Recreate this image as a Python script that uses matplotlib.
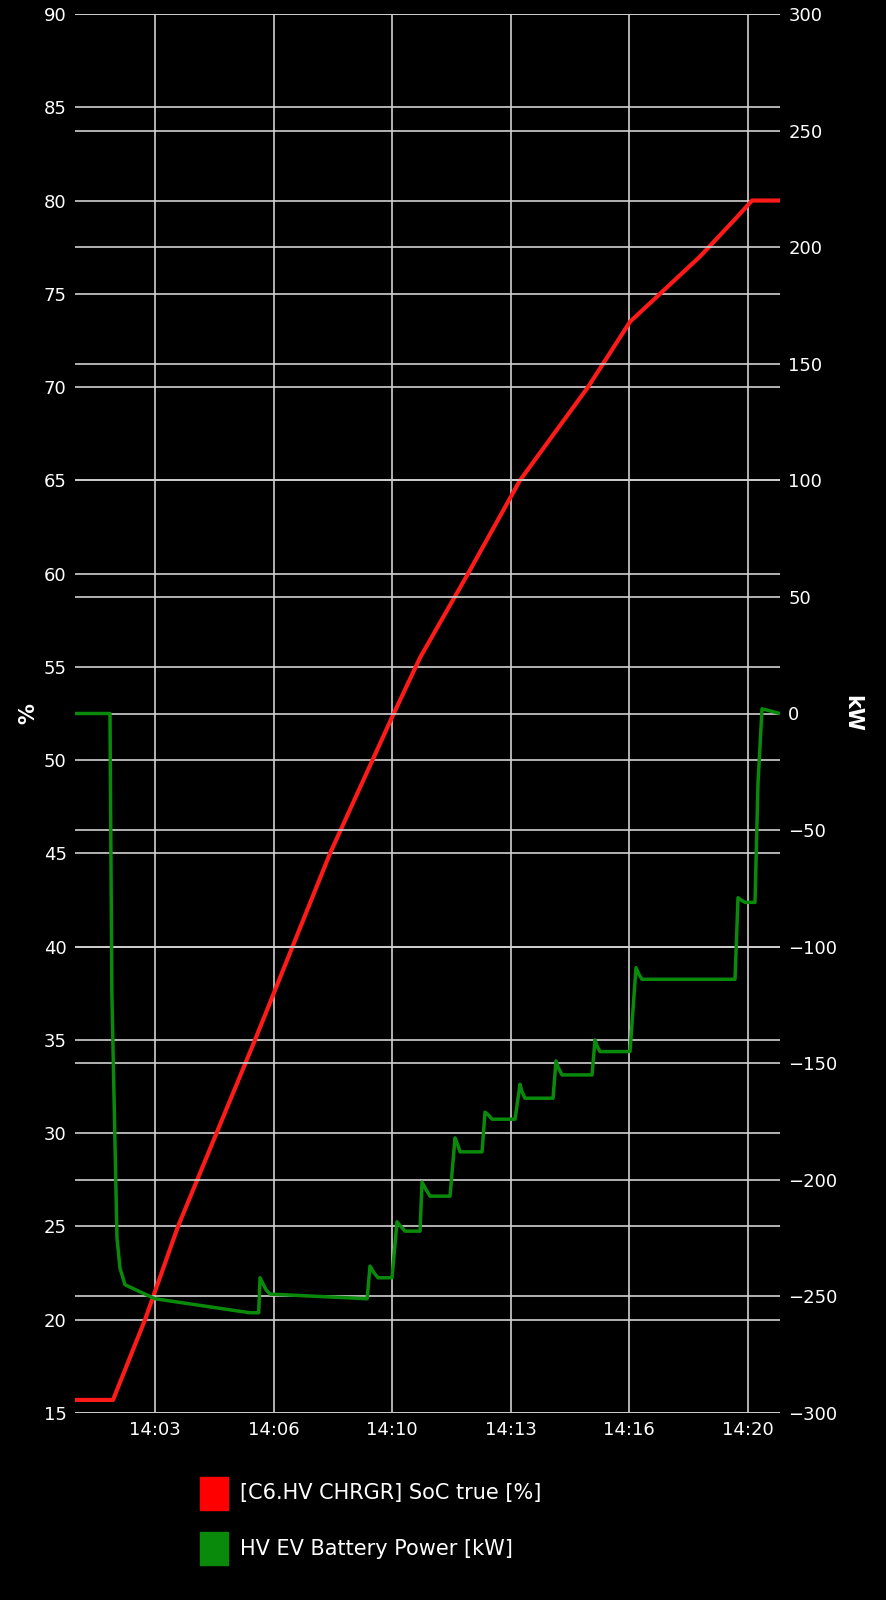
import matplotlib
matplotlib.use("Agg")
import matplotlib.pyplot as plt
import matplotlib.ticker as mt

# time in minutes after 14:00
soc_t = [1.083, 2.152, 3.052, 3.98, 6.146, 8.256, 10.0, 10.79, 12.138, 13.6, 15.513, 16.694, 18.663, 19.648, 20.126, 20.913]
soc_v = [15.7, 15.7, 20.0, 25.0, 35.0, 45.0, 52.3, 55.5, 60.0, 65.0, 70.0, 73.5, 77.0, 79.0, 80.0, 80.0]

pw_t = [1.083, 2.067, 2.12, 2.264, 2.35, 2.489, 3.333, 6.0, 6.25, 6.287, 6.45, 6.568, 9.3, 9.381, 9.5, 9.606, 10.0, 10.14, 10.25, 10.366,
        10.788, 10.844, 10.95, 11.069, 11.632, 11.772, 11.85, 11.913, 12.532, 12.616, 12.7, 12.813, 13.46, 13.6, 13.65, 13.741,
        14.529, 14.613, 14.68, 14.782, 15.626, 15.71, 15.78, 15.85, 16.694, 16.863, 16.95, 17.032, 19.648, 19.732, 19.82, 19.929,
        20.21, 20.294, 20.407, 20.913]
pw_v = [0, 0, -120, -225, -238, -245, -251, -257, -257, -242, -247, -249, -251, -237, -240, -242, -242, -218, -220, -222,
        -222, -201, -204, -207, -207, -182, -185, -188, -188, -171, -172, -174, -174, -159, -162, -165,
        -165, -149, -152, -155, -155, -140, -143, -145, -145, -109, -112, -114, -114, -79, -80, -81,
        -81, -30, 2, 0]

xticks = [10/3, 20/3, 10, 40/3, 50/3, 20]
xlabels = ["14:03", "14:06", "14:10", "14:13", "14:16", "14:20"]

fig = plt.figure(figsize=(8.86, 16), dpi=100, facecolor="black")
ax = fig.add_axes([75/886, 187/1600, 705/886, 1399/1600], facecolor="black")
ax2 = ax.twinx()
gc = "#d0d0d0"
ax.plot(soc_t, soc_v, color="#ff1a1a", lw=3, zorder=3)
ax2.plot(pw_t, pw_v, color="#0a8a0a", lw=2.5, zorder=3)
ax.set_xlim(1.083, 20.913)
ax.set_ylim(15, 90)
ax2.set_ylim(-300, 300)
ax.set_yticks(range(15, 91, 5))
ax2.set_yticks(range(-300, 301, 50))
ax.set_xticks(xticks)
ax.set_xticklabels(xlabels)
for a in (ax, ax2):
    a.grid(True, color=gc, lw=1.2)
    a.tick_params(colors="white", labelsize=13, length=0, pad=6)
    for s in a.spines.values():
        s.set_visible(False)
ax.set_zorder(ax2.get_zorder() - 1)
ax2.patch.set_visible(False)
ax.set_ylabel("%", color="white", fontsize=15, fontweight="bold")
ax2.set_ylabel("kW", color="white", fontsize=15, fontweight="bold", rotation=270, labelpad=18)

fig.patches.append(plt.Rectangle((200/886, 1-1510/1600), 28/886, 33/1600, transform=fig.transFigure, color="#ff0000"))
fig.patches.append(plt.Rectangle((200/886, 1-1565/1600), 28/886, 33/1600, transform=fig.transFigure, color="#0a8a0a"))
fig.text(240/886, 1-1493/1600, "[C6.HV CHRGR] SoC true [%]", color="white", fontsize=15, va="center")
fig.text(240/886, 1-1549/1600, "HV EV Battery Power [kW]", color="white", fontsize=15, va="center")
fig.savefig("out.png", dpi=100, facecolor="black")
